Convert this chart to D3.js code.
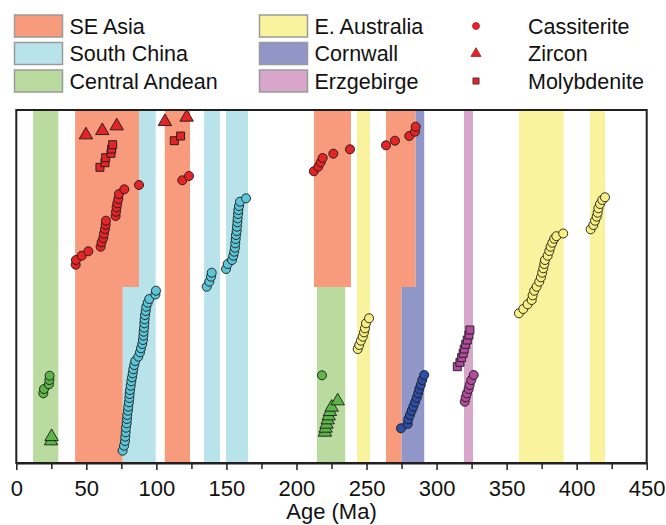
<!DOCTYPE html>
<html>
<head>
<meta charset="utf-8">
<script src="https://cdn.jsdelivr.net/npm/d3@7"></script>
<style>
  html, body { margin: 0; padding: 0; background: #fff; }
  svg { display: block; font-family: "Liberation Sans", Arial, Helvetica, sans-serif; }
</style>
</head>
<body>
<svg id="chart" width="666" height="525"></svg>
<script>
// ---------------- DATA ----------------
const regions = ["SE Asia", "South China", "Central Andean", "E. Australia", "Cornwall", "Erzgebirge"];
const bandColors = ["#F79B7C", "#B9E3EA", "#B9DBA0", "#F8F39C", "#9196C9", "#D8A6CB"];
const markerColors = ["#E52428", "#5CC5D7", "#5CB547", "#F8EF80", "#2E4EA4", "#B24B9D"];
const minerals = ["Cassiterite", "Zircon", "Molybdenite"];

// Age bands: [region, start Ma, end Ma, lower rank, upper rank]
const bands = [
  ["Central Andean", 12, 30, 0, 353],
  ["SE Asia", 42, 87.6, 176, 353],
  ["SE Asia", 42, 76, 0, 176],
  ["South China", 87.6, 99.5, 176, 353],
  ["South China", 76, 99.5, 0, 176],
  ["SE Asia", 106, 124, 0, 353],
  ["South China", 134, 145.4, 0, 353],
  ["South China", 149.7, 165.4, 0, 353],
  ["SE Asia", 212.5, 238.9, 176, 353],
  ["Central Andean", 214.6, 234.8, 0, 176],
  ["E. Australia", 243.2, 252.4, 0, 353],
  ["SE Asia", 263.9, 285.1, 176, 353],
  ["SE Asia", 263.9, 275.1, 0, 176],
  ["Cornwall", 285.1, 291.2, 176, 353],
  ["Cornwall", 275.1, 291.2, 0, 176],
  ["Erzgebirge", 319.6, 326, 0, 353],
  ["E. Australia", 358.8, 390.7, 0, 353],
  ["E. Australia", 409.5, 420.2, 0, 353]
];

// Points: [age Ma, cumulative rank position]
const seAsiaCassiterite = [
  [42.4,198.3],[42.6,203],[46.7,207.3],[51.4,211.7],[60.2,216.3],[60.9,220.7],[62.1,225],[62.6,229.3],
  [63.3,234],[63.8,238.3],[64,242.3],[70.9,247],[71.2,251.3],[71.6,255.7],[72.1,259.7],[72.8,264],
  [73.3,269],[77.1,273.7],[87.6,278],[118.5,282.7],[123.3,287],[212.4,291.7],[215.6,296.3],[217.3,300.7],
  [218.7,305],[226.3,309.3],[238.2,313.7],[263.9,317.7],[270.3,322.3],[280.5,327],[284.6,331.3],[285.1,336.3]
];
const seAsiaZircon = [[49.7,328],[61.4,332.3],[71.7,337],[106.1,341.3],[121.6,345.7]];
const seAsiaMolybdenite = [[59.7,295.7],[63.3,300.3],[63.8,305.3],[67.6,309.7],[68.1,314],[68.8,318.3],[112.8,322.3],[117.3,327]];

const southChinaCassiterite = [
  [75.9,12.3],[76.9,17.3],[77.6,22],[77.8,26.3],[78.1,30.7],[78.3,35.3],[78.8,39.7],[79,44],[79.2,48],
  [79.7,52.3],[79.9,56.3],[80.4,60.7],[80.7,65],[80.9,69],[81.2,73],[81.7,77.3],[82.1,81.7],[82.6,85.7],
  [83.1,89.7],[83.5,93.7],[84.2,98],[84.9,102],[87.1,106.3],[88.3,110.7],[89,114.7],[89.9,119],[90.4,123],
  [90.7,127.3],[90.9,131.3],[91.2,135.3],[91.4,139.7],[91.6,143.7],[91.9,148],[92.4,152],[92.8,156.3],
  [93.8,160.3],[94.9,164],[99.3,168.5],[99.7,172.3],
  [135.9,176.3],[137.8,181.3],[139,186.3],[139.5,190.3],
  [149.7,194],[150.9,199],[154,203],[154.9,207.3],[155.6,211.3],[156.1,215.3],[156.3,219.7],[156.6,224],
  [156.8,228],[157.3,232],[157.5,236.3],[157.8,240.7],[158,244.7],[158.3,249],[158.5,253],[159,257],
  [159.7,261.3],[164,264.7]
];

const andeanCassiterite = [[19.3,69.7],[19.8,74],[23.3,78.7],[23.6,83],[23.8,87.3],[218.2,87.7]];
const andeanZircon = [[24.8,22],[25.2,26.3],[220.3,30.7],[220.8,34.7],[221.5,38.7],[222.3,43],[223,47],[223.9,51.3],[225.1,55.7],[229.4,62]];

const australiaCassiterite = [
  [243.7,114],[244.8,118],[246,122.3],[247.3,126.3],[248.2,130.7],[248.9,134.7],[249.6,139.7],[251.8,144.7],
  [358.8,149.7],[361.9,154],[365,158.7],[367.9,163],[368.6,167.7],[369.7,172.3],[371.4,176.3],[373.3,181.3],
  [374.5,185.7],[375.4,190.3],[376.2,194.7],[376.9,199],[377.4,203],[379.3,207.3],[380.5,212],[381.4,216.3],
  [382.6,220.3],[384,224.3],[385.5,226.8],[390.4,229.5],
  [410,233.7],[411.9,238],[413.1,242.3],[414.3,246.3],[415,250.3],[415.5,254.7],[416.7,259],[418.3,263],[420.2,265.7]
];

const cornwallCassiterite = [
  [274.6,34.7],[279.4,39],[279.8,43.7],[281,48],[282.2,52.3],[283.4,56.3],[284.6,60.7],
  [285.8,65.3],[286.9,69.7],[287.7,74],[288.7,78],[289.8,83],[291.2,88]
];

const erzMolybdenite = [[314.8,96.3],[316.7,100.7],[317.9,105.3],[319,109.7],[319.8,114],[320.8,118.7],[321.9,123],[323.1,128],[323.8,133]];
const erzCassiterite = [[320.1,61.3],[320.8,65.7],[321.7,69.7],[322.9,74],[323.6,78],[324.8,83],[326.5,88]];

const xTicks = [0, 50, 100, 150, 200, 250, 300, 350, 400, 450];
const xMinorTicks = [25, 75, 125, 175, 225, 275, 325, 375, 425];
const xLabel = "Age (Ma)";

// series list built from the arrays above
const series = [
  { region: "SE Asia", mineral: "Cassiterite", data: seAsiaCassiterite },
  { region: "South China", mineral: "Cassiterite", data: southChinaCassiterite },
  { region: "Central Andean", mineral: "Cassiterite", data: andeanCassiterite },
  { region: "Central Andean", mineral: "Zircon", data: andeanZircon },
  { region: "E. Australia", mineral: "Cassiterite", data: australiaCassiterite },
  { region: "Cornwall", mineral: "Cassiterite", data: cornwallCassiterite },
  { region: "Erzgebirge", mineral: "Molybdenite", data: erzMolybdenite },
  { region: "Erzgebirge", mineral: "Cassiterite", data: erzCassiterite },
  { region: "SE Asia", mineral: "Molybdenite", data: seAsiaMolybdenite },
  { region: "SE Asia", mineral: "Zircon", data: seAsiaZircon }
];

// ---------------- LAYOUT ----------------
const W = 666, H = 525;
const margin = { left: 16.3, right: 666 - 646.7, top: 110, bottom: 525 - 463 };
const svg = d3.select("#chart");

const x = d3.scaleLinear().domain([0, 450]).range([margin.left, W - margin.right]);
const y = d3.scaleLinear().domain([0, 353]).range([H - margin.bottom, margin.top]);
const bandColor = d3.scaleOrdinal().domain(regions).range(bandColors);
const markColor = d3.scaleOrdinal().domain(regions).range(markerColors);
const symType = d3.scaleOrdinal().domain(minerals).range([d3.symbolCircle, d3.symbolTriangle, d3.symbolSquare]);
const symSize = d3.scaleOrdinal().domain(minerals).range([64, 78, 64]);

// bands
svg.append("g").selectAll("rect").data(bands).join("rect")
  .attr("x", d => x(d[1]))
  .attr("width", d => x(d[2]) - x(d[1]))
  .attr("y", d => y(d[4]))
  .attr("height", d => y(d[3]) - y(d[4]))
  .attr("fill", d => bandColor(d[0]));

// points
const gp = svg.append("g");
series.forEach(s => {
  gp.append("g").selectAll("path").data(s.data).join("path")
    .attr("transform", d => `translate(${x(d[0])},${y(d[1])})`)
    .attr("d", d3.symbol().type(symType(s.mineral)).size(symSize(s.mineral)))
    .attr("fill", markColor(s.region))
    .attr("stroke", "#1a1a1a")
    .attr("stroke-width", 0.9);
});

// frame
svg.append("rect")
  .attr("x", x(0)).attr("y", y(353))
  .attr("width", x(450) - x(0)).attr("height", y(0) - y(353))
  .attr("fill", "none").attr("stroke", "#231f20").attr("stroke-width", 2);

// axis
const axis = svg.append("g").attr("transform", `translate(0,${y(0)})`)
  .call(d3.axisBottom(x).tickValues(xTicks).tickSize(7).tickSizeOuter(0).tickPadding(10));
axis.select(".domain").attr("stroke", "#231f20").attr("stroke-width", 2);
axis.selectAll(".tick line").attr("stroke", "#231f20").attr("stroke-width", 1.5);
axis.selectAll("text").attr("font-size", 22).attr("fill", "#111")
  .attr("font-family", "'Liberation Sans', Arial, sans-serif");

svg.append("g").attr("transform", `translate(0,${y(0)})`)
  .call(d3.axisBottom(x).tickValues(xMinorTicks).tickSize(6).tickFormat(""))
  .call(g => g.select(".domain").remove())
  .selectAll(".tick line").attr("stroke", "#231f20").attr("stroke-width", 1.5);

svg.append("text")
  .attr("x", (x(0) + x(450)) / 2).attr("y", 519)
  .attr("text-anchor", "middle").attr("font-size", 22).attr("fill", "#111")
  .text(xLabel);

// ---------------- LEGEND ----------------
const legend = svg.append("g");
const rowY = [26, 53.5, 81];
const colX = [14.5, 259.5];
regions.forEach((r, i) => {
  const col = Math.floor(i / 3), row = i % 3;
  legend.append("rect")
    .attr("x", colX[col]).attr("y", rowY[row] - 11)
    .attr("width", 48).attr("height", 22)
    .attr("fill", bandColor(r)).attr("stroke", "#9a9a9a").attr("stroke-width", 1.5);
  legend.append("text")
    .attr("x", colX[col] + 55).attr("y", rowY[row])
    .attr("dy", "0.36em").attr("font-size", 21.5).attr("fill", "#111")
    .text(r);
});
minerals.forEach((m, i) => {
  legend.append("path")
    .attr("transform", `translate(476,${rowY[i]})`)
    .attr("d", d3.symbol().type(symType(m)).size(m === "Zircon" ? 44 : 38))
    .attr("fill", "#E52428").attr("stroke", m === "Molybdenite" ? "#333" : "#b01a1e").attr("stroke-width", 0.8);
  legend.append("text")
    .attr("x", 528).attr("y", rowY[i])
    .attr("dy", "0.36em").attr("font-size", 21.5).attr("fill", "#111")
    .text(m);
});
</script>
</body>
</html>
